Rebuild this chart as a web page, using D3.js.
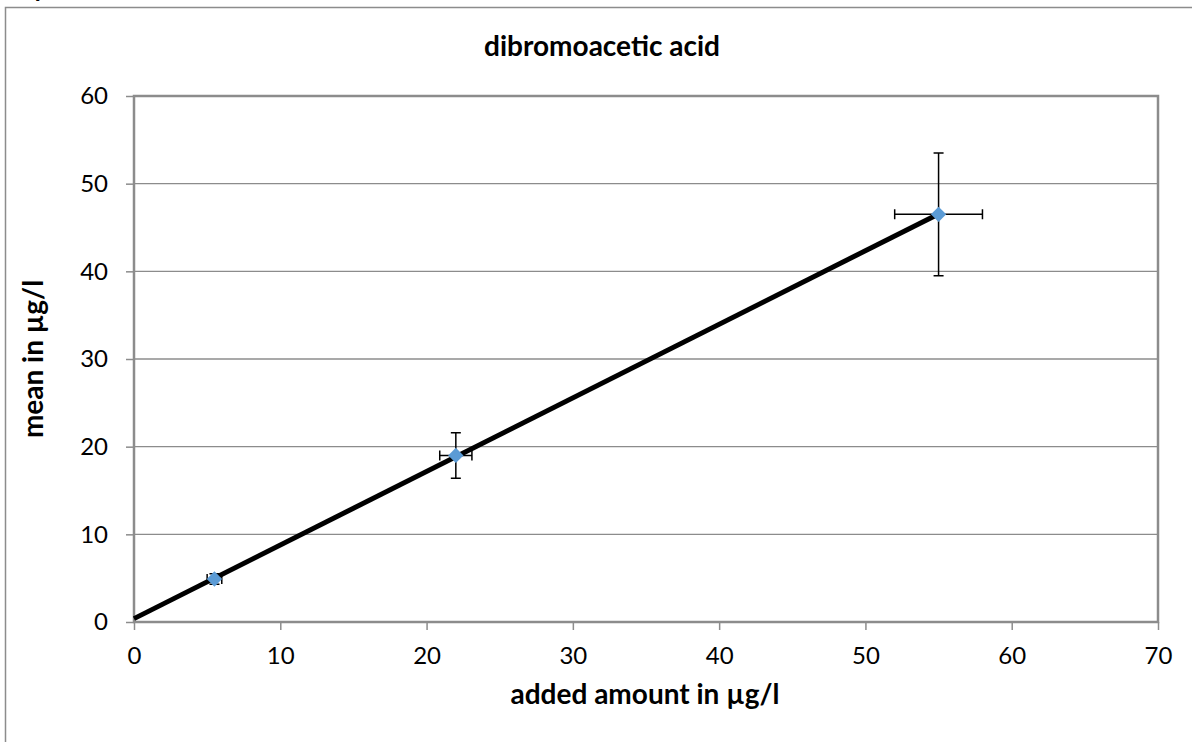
<!DOCTYPE html>
<html>
<head>
<meta charset="utf-8">
<script src="https://cdn.jsdelivr.net/npm/d3@7"></script>
<style>
  body { margin: 0; background: #fff; }
  svg { display: block; font-family: Lato, 'Open Sans', sans-serif; }
</style>
</head>
<body>
<div class="chart"></div>
<script>
// values
const added = [5.5, 22, 55];
const means = [4.9, 19, 46.5];
const xErr = [0.5, 1.1, 3];
const yErr = [0.6, 2.6, 7];
const xTicks = [0, 10, 20, 30, 40, 50, 60, 70];
const yTicks = [0, 10, 20, 30, 40, 50, 60];

const outerWidth = 1192, outerHeight = 742;
const margin = {top: 96, right: 34, bottom: 120, left: 134};
const width = outerWidth - margin.left - margin.right;
const height = outerHeight - margin.top - margin.bottom;

const svgRoot = d3.select('.chart')
    .append('svg')
    .attr('width', outerWidth)
    .attr('height', outerHeight);

// outer chart frame (runs off the page right and bottom)
svgRoot.append('path')
    .attr('d', 'M5.5,' + (outerHeight + 5) + 'V7.5H' + (outerWidth + 5))
    .attr('fill', 'none')
    .attr('stroke', '#8c8c8c')
    .attr('stroke-width', 1.5);

// clipped fragment of text above the frame
svgRoot.append('text')
    .attr('x', 33).attr('y', -3)
    .style('font-size', '26px').style('font-weight', 'bold')
    .text('y');

const svg = svgRoot.append('g')
    .attr('transform', 'translate(' + margin.left + ',' + margin.top + ')');

const x = d3.scaleLinear().domain([0, 70]).range([0, width]);
const y = d3.scaleLinear().domain([0, 60]).range([height, 0]);

// gridlines
svg.selectAll('.grid')
    .data(yTicks.slice(1))
    .enter().append('line')
    .attr('x1', 0).attr('x2', width)
    .attr('y1', d => y(d)).attr('y2', d => y(d))
    .attr('stroke', '#8c8c8c')
    .attr('stroke-width', 1.3);

// plot frame
svg.append('rect')
    .attr('width', width).attr('height', height)
    .attr('fill', 'none')
    .attr('stroke', '#8c8c8c')
    .attr('stroke-width', 2.5);

const yAxis = svg.append('g')
    .call(d3.axisLeft(y).tickValues(yTicks).tickSize(8).tickPadding(18));
const xAxis = svg.append('g')
    .attr('transform', 'translate(0,' + height + ')')
    .call(d3.axisBottom(x).tickValues(xTicks).tickSize(8).tickPadding(17));

[xAxis, yAxis].forEach(a => {
    a.select('.domain').remove();
    a.selectAll('line').attr('stroke', '#8c8c8c').attr('stroke-width', 1.5);
    a.selectAll('text')
        .attr('fill', '#000')
        .style('font-size', '24px')
        .style('font-family', 'Lato, sans-serif');
});

// linear trend line (least squares from the points)
const mx = d3.mean(added), my = d3.mean(means);
const slope = d3.sum(added, (d, i) => (d - mx) * (means[i] - my)) /
    d3.sum(added, d => (d - mx) * (d - mx));
const icpt = my - slope * mx;
const trend = [0, d3.max(added)];
svg.append('line')
    .attr('x1', x(trend[0])).attr('y1', y(icpt + slope * trend[0]))
    .attr('x2', x(trend[1])).attr('y2', y(icpt + slope * trend[1]))
    .attr('stroke', '#000')
    .attr('stroke-width', 5);

// error bars
const cap = 5;
const errG = svg.selectAll('.err')
    .data(added)
    .enter().append('g')
    .attr('stroke', '#000')
    .attr('stroke-width', 1.5)
    .attr('fill', 'none');

errG.append('path')
    .attr('d', (d, i) => {
        const cx = x(d);
        const y0 = y(means[i] - yErr[i]), y1 = y(means[i] + yErr[i]);
        return 'M' + cx + ',' + y0 + 'V' + y1 +
            'M' + (cx - cap) + ',' + y0 + 'H' + (cx + cap) +
            'M' + (cx - cap) + ',' + y1 + 'H' + (cx + cap);
    });
errG.append('path')
    .attr('d', (d, i) => {
        const cy = y(means[i]);
        const x0 = x(d - xErr[i]), x1 = x(d + xErr[i]);
        return 'M' + x0 + ',' + cy + 'H' + x1 +
            'M' + x0 + ',' + (cy - cap) + 'V' + (cy + cap) +
            'M' + x1 + ',' + (cy - cap) + 'V' + (cy + cap);
    });

// diamond markers
svg.selectAll('.pt')
    .data(added)
    .enter().append('path')
    .attr('d', d3.symbol().type(d3.symbolDiamond2).size(150))
    .attr('transform', (d, i) => 'translate(' + x(d) + ',' + y(means[i]) + ')')
    .attr('fill', '#5b9bd5');

// titles
svgRoot.append('text')
    .attr('x', 602).attr('y', 56)
    .attr('text-anchor', 'middle')
    .style('font-size', '28px').style('font-weight', 'bold')
    .text('dibromoacetic acid');

svgRoot.append('text')
    .attr('x', 645).attr('y', 704)
    .attr('text-anchor', 'middle')
    .style('font-size', '28px').style('font-weight', 'bold')
    .text('added amount in µg/l');

svgRoot.append('text')
    .attr('transform', 'translate(43,' + (margin.top + height / 2) + ') rotate(-90)')
    .attr('text-anchor', 'middle')
    .style('font-size', '28px').style('font-weight', 'bold')
    .text('mean in µg/l');
</script>
</body>
</html>
